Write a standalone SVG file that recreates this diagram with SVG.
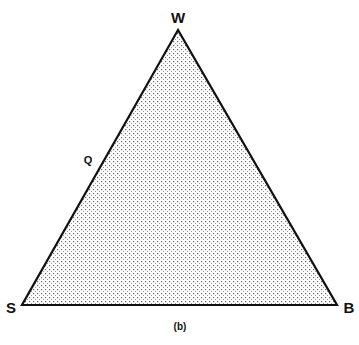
<svg xmlns="http://www.w3.org/2000/svg" width="359" height="345" viewBox="0 0 359 345">
<style>
.lbl{font-family:"Liberation Sans",Arial,sans-serif;font-weight:bold;fill:#111;text-anchor:middle}
</style>
<defs>
<pattern id="dots" width="4" height="4" patternUnits="userSpaceOnUse">
<rect x="1" y="1" width="1.2" height="1.2" fill="#666"/>
<rect x="3" y="3" width="1" height="1" fill="#999"/>
</pattern>
</defs>
<rect width="359" height="345" fill="#fff"/>
<g id="triangle">
<polygon points="178,30 22,305 337,305" fill="url(#dots)" stroke="#111" stroke-width="2.2" stroke-linejoin="miter"/>
</g>
<g id="W"><text class="lbl" x="178" y="23" font-size="15">W</text></g>
<g id="S"><text class="lbl" x="11" y="313" font-size="15">S</text></g>
<g id="B"><text class="lbl" x="349" y="313" font-size="15">B</text></g>
<g id="Q"><text class="lbl" x="88" y="164" font-size="11">Q</text></g>
<g id="caption"><text class="lbl" x="180" y="330" font-size="10">(b)</text></g>
<g id="connectors"></g>
</svg>
